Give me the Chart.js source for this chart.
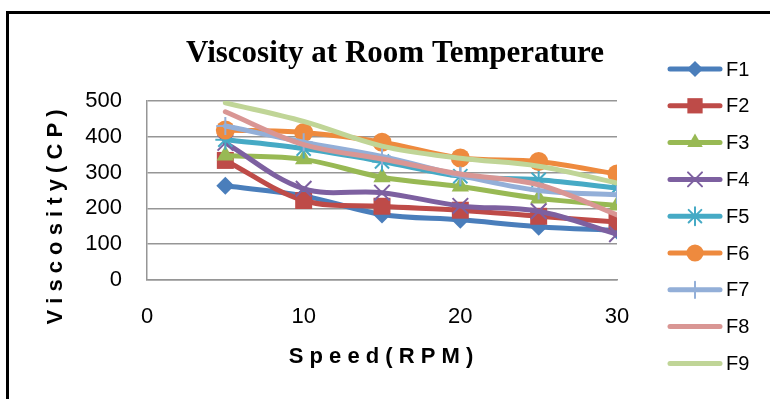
<!DOCTYPE html>
<html>
<head>
<meta charset="utf-8">
<script src="https://cdn.jsdelivr.net/npm/chart.js@4.4.1/dist/chart.umd.min.js"></script>
<style>
  html, body { margin: 0; padding: 0; background: #fff; }
  canvas { display: block; }
</style>
</head>
<body>
<canvas id="chart" width="770" height="399"></canvas>
<script>
// speed (RPM) on the x axis
const speeds = [5, 10, 15, 20, 25, 30];
const xTicks = [0, 10, 20, 30];
const yTicks = [0, 100, 200, 300, 400, 500];

// viscosity (cP) per formulation
const f1 = [263, 235, 183, 168, 149, 138];
const f2 = [334, 222, 206, 195, 178, 162];
const f3 = [348, 337, 287, 261, 228, 208];
const f4 = [383, 255, 244, 207, 192, 128];
const f5 = [392, 367, 331, 290, 280, 257];
const f6 = [419, 412, 385, 341, 331, 296];
const f7 = [430, 385, 345, 292, 250, 238];
const f8 = [470, 378, 338, 296, 266, 182];
const f9 = [495, 443, 374, 340, 318, 271];

const seriesNames = ['F1', 'F2', 'F3', 'F4', 'F5', 'F6', 'F7', 'F8', 'F9'];
const seriesValues = [f1, f2, f3, f4, f5, f6, f7, f8, f9];

// line colour, marker style, marker radius, marker outline width
const styles = [
  { color: '#4A7EBB', point: 'rectRot',  r: 9,   bw: 0 },
  { color: '#BE4B48', point: 'rect',     r: 12,  bw: 0 },
  { color: '#98B954', point: 'triangle', r: 10,  bw: 0 },
  { color: '#7D60A0', point: 'crossRot', r: 11,  bw: 2 },
  { color: '#46AAC5', point: 'star',     r: 10,  bw: 2 },
  { color: '#EE8A3E', point: 'circle',   r: 9.5, bw: 0 },
  { color: '#93AFD8', point: 'cross',    r: 9,   bw: 2 },
  { color: '#D99694', point: false,      r: 0,   bw: 0 },
  { color: '#C0D597', point: false,      r: 0,   bw: 0 }
];

const FONT = "'Liberation Sans', Arial, sans-serif";

const datasets = seriesNames.map((name, i) => ({
  label: name,
  data: speeds.map((s, j) => ({ x: s, y: seriesValues[i][j] })),
  borderColor: styles[i].color,
  backgroundColor: styles[i].color,
  borderWidth: 5,
  borderCapStyle: 'round',
  borderJoinStyle: 'round',
  tension: 0.35,
  pointStyle: styles[i].point,
  pointRadius: styles[i].r,
  pointBorderWidth: styles[i].bw,
  pointBorderColor: styles[i].color,
  pointBackgroundColor: styles[i].color,
  order: seriesNames.length - i   // later series sit on top
}));

// frame, title, axis titles and legend
const decor = {
  id: 'decor',
  afterDraw(chart) {
    const ctx = chart.ctx;
    ctx.save();

    ctx.strokeStyle = '#000';
    ctx.lineWidth = 3;
    ctx.strokeRect(7.5, 12.5, 900, 600);

    ctx.fillStyle = '#000';
    ctx.textAlign = 'center';
    ctx.textBaseline = 'alphabetic';
    ctx.font = "bold 31px 'Liberation Serif', 'Times New Roman', serif";
    ctx.fillText('Viscosity at Room Temperature', 395, 62);

    ctx.font = 'bold 22px ' + FONT;
    ctx.textBaseline = 'middle';
    ctx.fillText('S p e e d ( R P M )', 381, 357);

    ctx.save();
    ctx.translate(56, 217);
    ctx.rotate(-Math.PI / 2);
    ctx.fillText('V i s c o s i t y ( C P )', 0, 0);
    ctx.restore();

    // legend rows
    ctx.font = '20px ' + FONT;
    ctx.textAlign = 'left';
    chart.data.datasets.forEach((ds, i) => {
      const y = 69 + i * 36.8;
      ctx.strokeStyle = ds.borderColor;
      ctx.lineWidth = 5;
      ctx.lineCap = 'round';
      ctx.beginPath();
      ctx.moveTo(670, y);
      ctx.lineTo(720, y);
      ctx.stroke();
      if (ds.pointStyle) {
        ctx.fillStyle = ds.pointBackgroundColor;
        ctx.strokeStyle = ds.pointBorderColor;
        ctx.lineWidth = ds.pointBorderWidth;
        Chart.helpers.drawPoint(ctx, {
          pointStyle: ds.pointStyle,
          rotation: 0,
          radius: ds.pointRadius * 0.9,
          borderWidth: ds.pointBorderWidth
        }, 695, y);
      }
      ctx.fillStyle = '#000';
      ctx.fillText(ds.label, 726, y + 1);
    });

    ctx.restore();
  }
};

new Chart(document.getElementById('chart'), {
  type: 'line',
  data: { datasets },
  options: {
    responsive: false,
    animation: false,
    devicePixelRatio: 1,
    layout: { padding: { left: 67, right: 153, top: 101, bottom: 49 } },
    plugins: {
      legend: { display: false },
      title: { display: false },
      tooltip: { enabled: false }
    },
    scales: {
      x: {
        type: 'linear',
        min: 0,
        max: 30,
        afterBuildTicks: s => { s.ticks = xTicks.map(v => ({ value: v })); },
        afterFit: s => { s.height = 70; },
        grid: { display: false, drawTicks: false },
        border: { display: true, color: '#969696', width: 1.5 },
        ticks: { color: '#000', padding: 24, font: { family: FONT, size: 22 } }
      },
      y: {
        min: 0,
        max: 500,
        afterBuildTicks: s => { s.ticks = yTicks.map(v => ({ value: v })); },
        afterFit: s => { s.width = 80; },
        grid: { color: '#969696', lineWidth: 1.5, drawTicks: false },
        border: { display: true, color: '#969696', width: 1.5 },
        ticks: { color: '#000', padding: 25, font: { family: FONT, size: 22 } }
      }
    }
  },
  plugins: [decor]
});
</script>
</body>
</html>
